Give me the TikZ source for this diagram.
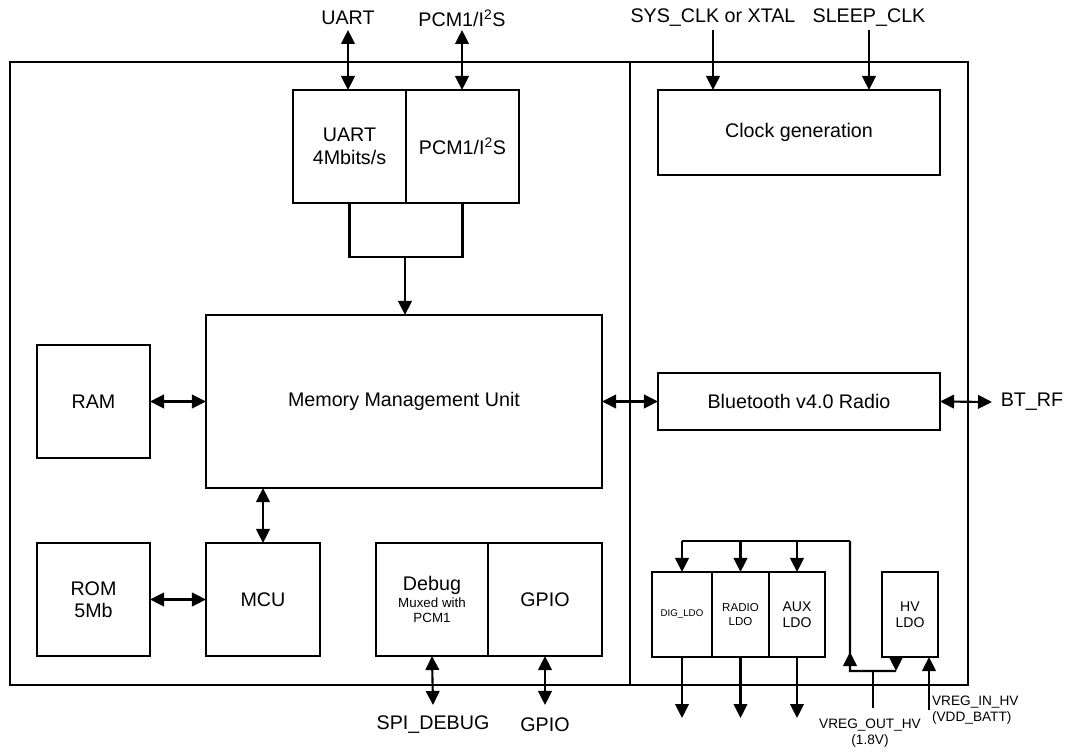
\documentclass[tikz,border=0pt]{standalone}
\usepackage{fontspec}
\setmainfont{Liberation Sans}
\usetikzlibrary{arrows.meta,calc}
\newcommand\smalltxt{\fontsize{9.5}{11}\selectfont}

\begin{document}
\begin{tikzpicture}[x=0.025cm, y=-0.025cm, >={Triangle[length=3.5mm,width=3.4mm]},
    blk/.style={draw, line width=1.3pt, inner sep=0pt, outer sep=0pt, align=center, font=\fontsize{14}{16}\selectfont},
    ldo/.style={blk, minimum height=2.125cm, font=\fontsize{10}{11.5}\selectfont},
    lbl/.style={inner sep=2pt, align=center, font=\fontsize{14}{16}\selectfont},
    slbl/.style={inner sep=2pt, font=\fontsize{9.7}{11.5}\selectfont},
    frame/.style={line width=0.8pt},
    wire/.style={line width=1.5pt}]
  \useasboundingbox[fill=white] (0,0) rectangle (1074,754);
  \draw[frame] (10,62) rectangle (630,685);
  \draw[frame] (630,62) rectangle (968,685);

  \node[blk, minimum width=2.825cm, minimum height=2.825cm] (uart) at (349.5,146.5) {UART\\4Mbits/s};
  \node[blk, minimum width=2.825cm, minimum height=2.825cm] (pcm) at (462.5,146.5) {PCM1/I\textsuperscript{2}S};
  \node[blk, minimum width=9.9cm, minimum height=4.325cm] (mmu) at (404,401.5) {Memory Management Unit};
  \node[blk, minimum width=2.825cm, minimum height=2.825cm] (ram) at (93.5,401.5) {RAM};
  \node[blk, minimum width=2.825cm, minimum height=2.825cm] (rom) at (93.5,599.5) {ROM\\5Mb};
  \node[blk, minimum width=2.85cm, minimum height=2.825cm] (mcu) at (263,599.5) {MCU};
  \node[blk, minimum width=2.8cm, minimum height=2.825cm, font=\smalltxt] (debug) at (432,599.5) {{\fontsize{14}{16}\selectfont Debug}\\[1pt]Muxed with\\PCM1};
  \node[blk, minimum width=2.85cm, minimum height=2.825cm] (gpio) at (545,599.5) {GPIO};
  \node[blk, minimum width=7.05cm, minimum height=2.125cm] (clk) at (799,132.5) {Clock generation};
  \node[blk, minimum width=7.05cm, minimum height=1.425cm] (bt) at (799,401.5) {Bluetooth v4.0 Radio};
  \node[ldo, minimum width=1.5cm, font=\fontsize{6.9}{8}\selectfont] (dig) at (682,614.5) {DIG\_LDO};
  \node[ldo, minimum width=1.425cm, font=\fontsize{8.2}{10}\selectfont] (radio) at (740.5,614.5) {RADIO\\LDO};
  \node[ldo, minimum width=1.4cm] (aux) at (797,614.5) {AUX\\LDO};
  \node[ldo, minimum width=1.4cm] (hv) at (910,614.5) {HV\\LDO};

  \node[lbl] (luart) at (348,18) {UART};
  \node[lbl] (lpcm) at (462,18) {PCM1/I\textsuperscript{2}S};
  \node[lbl] (lsys) at (713,18) {SYS\_CLK or XTAL};
  \node[lbl] (lsleep) at (869,18) {SLEEP\_CLK};
  \node[lbl] (lspi) at (433,725) {SPI\_DEBUG};
  \node[lbl] (lgpio) at (545,725) {GPIO};
  \node[lbl] (lrf) at (1032,402) {BT\_RF};
  \node[slbl, align=center] (lout) at (870,733) {VREG\_OUT\_HV\\(1.8V)};
  \node[slbl, align=left, anchor=west] (lin) at (929,710) {VREG\_IN\_HV\\(VDD\_BATT)};

  \draw[wire, <->] ($(luart.center)+(0,12)$) -- (luart.center |- uart.north);
  \draw[wire, <->] ($(lpcm.center)+(0,12)$) -- (lpcm.center |- pcm.north);
  \draw[wire, ->] ($(lsys.center)+(0,12)$) -- (lsys.center |- clk.north);
  \draw[wire, ->] ($(lsleep.center)+(0,12)$) -- (lsleep.center |- clk.north);

  \coordinate (mrg) at (405,257);
  \draw[wire] (uart.south) |- (mrg) -| (pcm.south);
  \draw[wire, ->] (mrg) -- (mrg |- mmu.north);
  \draw[wire, <->] (ram) -- (mmu);
  \draw[wire, <->] (rom) -- (mcu);
  \draw[wire, <->] (mcu.north) -- (mcu.north |- mmu.south);
  \draw[wire, <->] (mmu) -- (bt);
  \draw[wire, <->] (bt.east) -- ($(lrf.center)+(-40,0)$);
  \draw[wire, <->] (debug.south) -- ($(lspi.center)+(0,-20)$);
  \draw[wire, <->] (gpio.south) -- ($(lgpio.center)+(0,-20)$);

  \coordinate (bus) at (850,541);
  \coordinate (jn) at (873,671);
  \draw[wire] (bus) -- (dig.north |- bus);
  \foreach \n in {dig,radio,aux}
    \draw[wire, ->] (\n.north |- bus) -- (\n.north);
  \foreach \n in {dig,radio,aux}
    \draw[wire, ->] (\n.south) -- ++(0,61);
  \draw[wire] (bus) -- (bus |- jn) -- ($(hv.south)+(-14,14)$);
  \draw[wire, ->] (bus |- jn) -- ++(0,-19);
  \draw[wire, ->] ($(hv.south)+(-14,0)$) -- ++(0,14);
  \draw[wire] (jn) -- ++(0,37);
  \draw[wire, ->] (lin.west) -- (lin.west |- hv.south);
\end{tikzpicture}
\end{document}
